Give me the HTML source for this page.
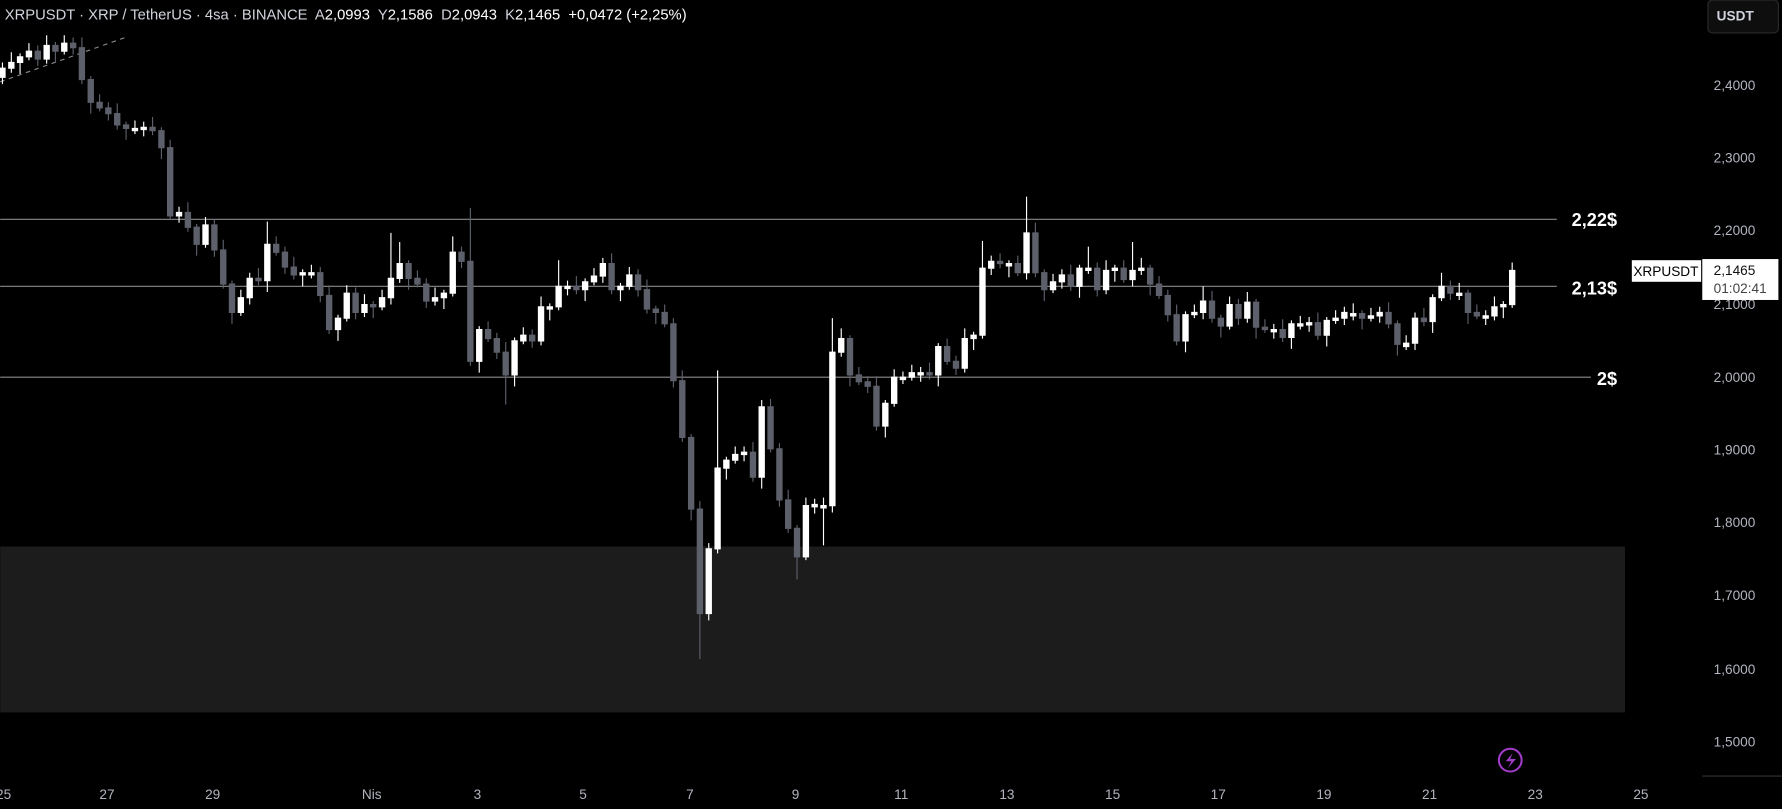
<!DOCTYPE html>
<html><head><meta charset="utf-8"><style>
html,body{margin:0;padding:0;background:#000;width:1782px;height:809px;overflow:hidden}
svg{display:block}
text{font-family:"Liberation Sans",sans-serif}
</style></head><body>
<svg width="1782" height="809" viewBox="0 0 1568 712" xmlns="http://www.w3.org/2000/svg">
<rect width="1568" height="712" fill="#000"/>
<rect x="0" y="481" width="1430" height="146" fill="#1c1c1c"/>
<line x1="0" y1="193" x2="1370" y2="193" stroke="#8a8a8a" stroke-width="1"/>
<line x1="0" y1="252" x2="1370" y2="252" stroke="#8a8a8a" stroke-width="1"/>
<line x1="0" y1="332" x2="1400" y2="332" stroke="#8a8a8a" stroke-width="1"/>
<text x="1423" y="199" fill="#fff" font-size="16" font-weight="bold" text-anchor="end">2,22$</text>
<text x="1423" y="259" fill="#fff" font-size="16" font-weight="bold" text-anchor="end">2,13$</text>
<text x="1423" y="339" fill="#fff" font-size="16" font-weight="bold" text-anchor="end">2$</text>
<line x1="0" y1="72" x2="110" y2="33" stroke="#888" stroke-width="1" stroke-dasharray="4,4"/>

<path fill="#5d606b" stroke="#5d606b" stroke-width="1" d="
M33.1 40V58M33.1 45h2.3V52h-4.6V45z
M48.6 37V55M48.6 40h2.3V45h-4.6V40z
M64.2 33V48M64.2 38h2.3V42h-4.6V38z
M71.9 33V74M71.9 42h2.3V70h-4.6V42z
M79.7 67V100M79.7 70h2.3V90h-4.6V70z
M87.5 83V98M87.5 90h2.3V95h-4.6V90z
M95.2 90V106M95.2 95h2.3V100h-4.6V95z
M103 91V114M103 100h2.3V110h-4.6V100z
M110.8 107V123M110.8 110h2.3V113h-4.6V110z
M134.1 103V119M134.1 112h2.3V115h-4.6V112z
M141.9 112V140M141.9 115h2.3V130h-4.6V115z
M149.6 123V193M149.6 130h2.3V190h-4.6V130z
M165.2 178V204M165.2 187h2.3V200h-4.6V187z
M172.9 197V225M172.9 200h2.3V215h-4.6V200z
M188.5 193V226M188.5 198h2.3V220h-4.6V198z
M196.3 211V254M196.3 220h2.3V250h-4.6V220z
M204 247V285M204 250h2.3V275h-4.6V250z
M227.3 236V251M227.3 245h2.3V247h-4.6V245z
M242.9 208V225M242.9 215h2.3V222h-4.6V215z
M250.6 217V241M250.6 222h2.3V235h-4.6V222z
M258.4 226V246M258.4 235h2.3V242h-4.6V235z
M281.7 235V266M281.7 240h2.3V260h-4.6V240z
M289.5 251V294M289.5 260h2.3V290h-4.6V260z
M312.8 253V281M312.8 258h2.3V275h-4.6V258z
M328.3 265V280M328.3 268h2.3V270h-4.6V268z
M359.4 229V255M359.4 232h2.3V245h-4.6V232z
M367.2 238V253M367.2 245h2.3V250h-4.6V245z
M375 245V271M375 250h2.3V265h-4.6V250z
M406 217V236M406 222h2.3V230h-4.6V222z
M413.8 183V322M413.8 230h2.3V318h-4.6V230z
M429.4 283V301M429.4 290h2.3V298h-4.6V290z
M437.1 293V316M437.1 298h2.3V310h-4.6V298z
M444.9 301V356M444.9 310h2.3V330h-4.6V310z
M468.2 290V306M468.2 295h2.3V300h-4.6V295z
M507.1 243V259M507.1 252h2.3V255h-4.6V252z
M538.1 223V259M538.1 232h2.3V255h-4.6V232z
M561.4 237V261M561.4 242h2.3V255h-4.6V242z
M569.2 246V276M569.2 255h2.3V272h-4.6V255z
M577 269V285M577 272h2.3V275h-4.6V272z
M584.8 268V288M584.8 275h2.3V285h-4.6V275z
M592.5 280V341M592.5 285h2.3V335h-4.6V285z
M600.3 326V389M600.3 335h2.3V385h-4.6V335z
M608.1 382V458M608.1 385h2.3V448h-4.6V385z
M615.8 441V580M615.8 448h2.3V540h-4.6V448z
M662.5 389V424M662.5 398h2.3V420h-4.6V398z
M678 351V398M678 358h2.3V395h-4.6V358z
M685.8 390V446M685.8 395h2.3V440h-4.6V395z
M693.5 431V469M693.5 440h2.3V465h-4.6V440z
M701.3 462V510M701.3 465h2.3V490h-4.6V465z
M747.9 295V340M747.9 298h2.3V330h-4.6V298z
M755.7 323V339M755.7 330h2.3V336h-4.6V330z
M763.5 331V346M763.5 336h2.3V340h-4.6V336z
M771.2 331V379M771.2 340h2.3V375h-4.6V340z
M817.9 319V334M817.9 328h2.3V330h-4.6V328z
M833.4 298V321M833.4 305h2.3V318h-4.6V305z
M841.2 313V330M841.2 318h2.3V324h-4.6V318z
M880 223V236M880 230h2.3V232h-4.6V230z
M895.6 225V243M895.6 232h2.3V240h-4.6V232z
M911.1 196V244M911.1 205h2.3V240h-4.6V205z
M918.9 237V265M918.9 240h2.3V255h-4.6V240z
M942.2 233V256M942.2 242h2.3V252h-4.6V242z
M965.5 231V261M965.5 236h2.3V255h-4.6V236z
M988.8 229V249M988.8 236h2.3V246h-4.6V236z
M1012.1 233V260M1012.1 236h2.3V250h-4.6V236z
M1019.9 243V263M1019.9 250h2.3V260h-4.6V250z
M1027.6 255V283M1027.6 260h2.3V277h-4.6V260z
M1035.4 268V304M1035.4 277h2.3V300h-4.6V277z
M1066.5 256V284M1066.5 265h2.3V280h-4.6V265z
M1074.3 277V297M1074.3 280h2.3V287h-4.6V280z
M1089.8 263V286M1089.8 268h2.3V280h-4.6V268z
M1105.3 263V298M1105.3 266h2.3V288h-4.6V266z
M1113.1 281V293M1113.1 288h2.3V290h-4.6V288z
M1128.7 281V301M1128.7 290h2.3V297h-4.6V290z
M1159.7 275V299M1159.7 284h2.3V295h-4.6V284z
M1198.6 273V290M1198.6 276h2.3V280h-4.6V276z
M1221.9 266V289M1221.9 275h2.3V285h-4.6V275z
M1229.7 282V313M1229.7 285h2.3V303h-4.6V285z
M1253 271V287M1253 280h2.3V283h-4.6V280z
M1276.3 247V264M1276.3 252h2.3V258h-4.6V252z
M1291.8 255V285M1291.8 258h2.3V275h-4.6V258z
M1299.6 268V281M1299.6 275h2.3V278h-4.6V275z
"/>

<path fill="#ffffff" stroke="#ffffff" stroke-width="1" d="
M2 55V74M2 60h2.3V68h-4.6V60z
M9.8 46V64M9.8 55h2.3V60h-4.6V55z
M17.5 47V65M17.5 50h2.3V55h-4.6V50z
M25.3 38V53M25.3 45h2.3V50h-4.6V45z
M40.9 31V56M40.9 40h2.3V52h-4.6V40z
M56.4 31V48M56.4 38h2.3V45h-4.6V38z
M118.6 106V118M118.6 113h2.3V115h-4.6V113z
M126.3 107V120M126.3 112h2.3V114h-4.6V112z
M157.4 182V196M157.4 187h2.3V190h-4.6V187z
M180.7 191V218M180.7 198h2.3V215h-4.6V198z
M211.8 255V278M211.8 262h2.3V275h-4.6V262z
M219.6 240V268M219.6 245h2.3V262h-4.6V245z
M235.1 195V257M235.1 215h2.3V247h-4.6V215z
M266.2 237V252M266.2 240h2.3V242h-4.6V240z
M273.9 233V245M273.9 240h2.3V242h-4.6V240z
M297.3 277V300M297.3 280h2.3V290h-4.6V280z
M305 251V283M305 258h2.3V280h-4.6V258z
M320.6 259V279M320.6 268h2.3V275h-4.6V268z
M336.1 255V273M336.1 262h2.3V270h-4.6V262z
M343.9 205V268M343.9 245h2.3V262h-4.6V245z
M351.6 213V249M351.6 232h2.3V245h-4.6V232z
M382.7 253V269M382.7 262h2.3V265h-4.6V262z
M390.5 255V272M390.5 258h2.3V262h-4.6V258z
M398.3 208V261M398.3 222h2.3V258h-4.6V222z
M421.6 287V328M421.6 290h2.3V318h-4.6V290z
M452.7 297V340M452.7 300h2.3V330h-4.6V300z
M460.4 288V303M460.4 295h2.3V300h-4.6V295z
M476 261V304M476 270h2.3V300h-4.6V270z
M483.7 267V282M483.7 270h2.3V272h-4.6V270z
M491.5 229V273M491.5 252h2.3V270h-4.6V252z
M499.3 247V260M499.3 252h2.3V254h-4.6V252z
M514.8 245V265M514.8 248h2.3V255h-4.6V248z
M522.6 236V251M522.6 243h2.3V248h-4.6V243z
M530.4 227V249M530.4 232h2.3V243h-4.6V232z
M545.9 249V265M545.9 252h2.3V255h-4.6V252z
M553.7 235V255M553.7 242h2.3V252h-4.6V242z
M623.6 478V546M623.6 483h2.3V540h-4.6V483z
M631.4 326V487M631.4 412h2.3V483h-4.6V412z
M639.1 402V422M639.1 405h2.3V412h-4.6V405z
M646.9 393V408M646.9 400h2.3V405h-4.6V400z
M654.7 393V406M654.7 398h2.3V400h-4.6V398z
M670.2 352V430M670.2 358h2.3V420h-4.6V358z
M709.1 438V493M709.1 445h2.3V490h-4.6V445z
M716.8 439V452M716.8 444h2.3V446h-4.6V444z
M724.6 438V480M724.6 445h2.3V447h-4.6V445z
M732.4 280V451M732.4 310h2.3V445h-4.6V310z
M740.2 289V314M740.2 298h2.3V310h-4.6V298z
M779 352V385M779 355h2.3V375h-4.6V355z
M786.8 325V358M786.8 332h2.3V355h-4.6V332z
M794.5 327V338M794.5 332h2.3V334h-4.6V332z
M802.3 321V335M802.3 328h2.3V332h-4.6V328z
M810.1 323V336M810.1 328h2.3V330h-4.6V328z
M825.6 302V340M825.6 305h2.3V330h-4.6V305z
M848.9 289V328M848.9 298h2.3V324h-4.6V298z
M856.7 292V308M856.7 295h2.3V298h-4.6V295z
M864.5 212V298M864.5 236h2.3V295h-4.6V236z
M872.2 225V242M872.2 230h2.3V236h-4.6V230z
M887.8 229V244M887.8 232h2.3V234h-4.6V232z
M903.3 173V246M903.3 205h2.3V240h-4.6V205z
M926.6 241V258M926.6 248h2.3V255h-4.6V248z
M934.4 237V254M934.4 242h2.3V248h-4.6V242z
M949.9 233V262M949.9 236h2.3V252h-4.6V236z
M957.7 217V241M957.7 236h2.3V238h-4.6V236z
M973.3 229V259M973.3 238h2.3V255h-4.6V238z
M981 233V248M981 236h2.3V238h-4.6V236z
M996.6 213V252M996.6 238h2.3V246h-4.6V238z
M1004.3 227V242M1004.3 236h2.3V238h-4.6V236z
M1043.2 274V310M1043.2 277h2.3V300h-4.6V277z
M1051 268V280M1051 275h2.3V277h-4.6V275z
M1058.7 252V281M1058.7 265h2.3V275h-4.6V265z
M1082 261V290M1082 268h2.3V287h-4.6V268z
M1097.6 257V284M1097.6 266h2.3V280h-4.6V266z
M1120.9 285V298M1120.9 290h2.3V292h-4.6V290z
M1136.4 282V307M1136.4 285h2.3V297h-4.6V285z
M1144.2 278V290M1144.2 285h2.3V287h-4.6V285z
M1152 279V292M1152 284h2.3V286h-4.6V284z
M1167.5 279V305M1167.5 282h2.3V295h-4.6V282z
M1175.3 273V285M1175.3 280h2.3V282h-4.6V280z
M1183 270V286M1183 275h2.3V280h-4.6V275z
M1190.8 267V282M1190.8 276h2.3V278h-4.6V276z
M1206.4 271V283M1206.4 278h2.3V280h-4.6V278z
M1214.1 270V284M1214.1 275h2.3V278h-4.6V275z
M1237.4 295V308M1237.4 302h2.3V305h-4.6V302z
M1245.2 275V308M1245.2 280h2.3V302h-4.6V280z
M1260.7 259V293M1260.7 262h2.3V283h-4.6V262z
M1268.5 240V265M1268.5 252h2.3V262h-4.6V252z
M1284.1 249V264M1284.1 258h2.3V260h-4.6V258z
M1307.4 273V286M1307.4 278h2.3V280h-4.6V278z
M1315.1 261V282M1315.1 270h2.3V278h-4.6V270z
M1322.9 265V280M1322.9 268h2.3V270h-4.6V268z
M1330.7 231V271M1330.7 238h2.3V268h-4.6V238z
"/>

<text x="4" y="17" font-size="13" fill="#d1d4dc" xml:space="preserve">XRPUSDT · XRP / TetherUS · 4sa · BINANCE  A<tspan fill="#fff">2,0993</tspan>  Y<tspan fill="#fff">2,1586</tspan>  D<tspan fill="#fff">2,0943</tspan>  K<tspan fill="#fff">2,1465</tspan>  <tspan fill="#fff">+0,0472 (+2,25%)</tspan></text>
<rect x="1503" y="0" width="62" height="29" rx="4" fill="#0e0e0e" stroke="#2a2a2a"/>
<text x="1527" y="18" font-size="12" fill="#d1d4dc" text-anchor="middle" font-weight="bold">USDT</text>
<g font-size="12" fill="#b2b5be">
<text x="1508" y="79">2,4000</text><text x="1508" y="143">2,3000</text><text x="1508" y="207">2,2000</text>
<text x="1508" y="272">2,1000</text><text x="1508" y="336">2,0000</text><text x="1508" y="400">1,9000</text>
<text x="1508" y="464">1,8000</text><text x="1508" y="528">1,7000</text><text x="1508" y="593">1,6000</text>
<text x="1508" y="657">1,5000</text>
</g>
<rect x="1436" y="229" width="61" height="19" fill="#fff"/>
<text x="1466" y="243" font-size="12" fill="#000" text-anchor="middle">XRPUSDT</text>
<rect x="1498" y="228" width="67" height="36" fill="#fff"/>
<text x="1508" y="242" font-size="12" fill="#111">2,1465</text>
<text x="1508" y="258" font-size="12" fill="#444">01:02:41</text>
<line x1="1498" y1="683" x2="1568" y2="683" stroke="#333"/>
<circle cx="1329" cy="669" r="10" fill="none" stroke="#a03cc8" stroke-width="1.8"/>
<path d="M1331 663 L1325 670 L1330 670 L1327 676 L1334 668 L1329 668 Z" fill="#a03cc8"/>
<g font-size="12" fill="#b2b5be" text-anchor="middle">
<text x="3" y="703">25</text><text x="94" y="703">27</text><text x="187" y="703">29</text><text x="327" y="703">Nis</text>
<text x="420" y="703">3</text><text x="513" y="703">5</text><text x="607" y="703">7</text><text x="700" y="703">9</text>
<text x="793" y="703">11</text><text x="886" y="703">13</text><text x="979" y="703">15</text><text x="1072" y="703">17</text>
<text x="1165" y="703">19</text><text x="1258" y="703">21</text><text x="1351" y="703">23</text><text x="1444" y="703">25</text>
</g>
</svg>
</body></html>
